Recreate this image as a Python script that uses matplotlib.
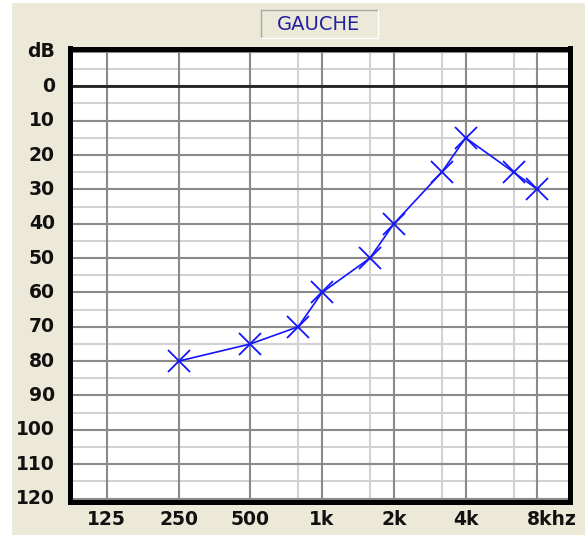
import matplotlib
matplotlib.use("Agg")
import numpy as np
import matplotlib.pyplot as plt
from matplotlib.patches import Rectangle
from matplotlib.lines import Line2D

# Audiogram data (left ear)
freqs = [250, 500, 750, 1000, 1500, 2000, 3000, 4000, 6000, 8000]
levels_db = [80, 75, 70, 60, 50, 40, 25, 15, 25, 30]

octave_freqs = [125, 250, 500, 1000, 2000, 4000, 8000]
octave_labels = ["125", "250", "500", "1k", "2k", "4k", "8khz"]
mid_freqs = [750, 1500, 3000, 6000]

db_major = list(range(-10, 130, 10))
db_minor = list(range(-5, 125, 10))
db_labels = ["dB"] + [str(v) for v in range(0, 130, 10)]

title = "GAUCHE"

# Audiometer frequency axis: one column per octave, half-octave
# frequencies sit two thirds of the way across their column.
_grid_f = np.array(sorted(octave_freqs + mid_freqs), dtype=float)
_grid_l = np.log2(_grid_f)
_grid_p = np.array([0, 1, 2, 2 + 2 / 3, 3, 3 + 2 / 3, 4, 4 + 2 / 3, 5, 5 + 2 / 3, 6])


def freq_to_pos(f):
    l = np.log2(np.maximum(np.asarray(f, dtype=float), 1e-9))
    p = np.interp(l, _grid_l, _grid_p)
    p = np.where(l < _grid_l[0], _grid_p[0] + (l - _grid_l[0]), p)
    p = np.where(l > _grid_l[-1], _grid_p[-1] + (l - _grid_l[-1]), p)
    return p


def pos_to_freq(p):
    p = np.asarray(p, dtype=float)
    l = np.interp(p, _grid_p, _grid_l)
    l = np.where(p < _grid_p[0], _grid_l[0] + (p - _grid_p[0]), l)
    l = np.where(p > _grid_p[-1], _grid_l[-1] + (p - _grid_p[-1]), l)
    return 2.0 ** l


W, H = 588, 537
fig = plt.figure(figsize=(W / 100, H / 100), dpi=100, facecolor="white")

panel_bg = "#ECE9D8"
fig.patches.append(Rectangle((12 / W, 1 - 535 / H), (585 - 12) / W, (535 - 3) / H,
                             transform=fig.transFigure, facecolor=panel_bg,
                             edgecolor="none", zorder=-5))

ax = fig.add_axes([70 / W, 1 - 502 / H, 500 / W, (502 - 48.5) / H])
ax.set_zorder(2)
ax.set_facecolor("white")
ax.set_xscale("function", functions=(freq_to_pos, pos_to_freq))
ax.set_xlim(87.7, 10950)
ax.set_ylim(121, -11)

# grid
dark = "#8a8a8a"
light = "#d2d2d2"
for f in octave_freqs:
    ax.axvline(f, color=dark, lw=1.5, zorder=1)
for f in mid_freqs:
    ax.axvline(f, color=light, lw=1.5, zorder=0.9)
for v in db_major:
    ax.axhline(v, color=dark, lw=1.5, zorder=1)
for v in db_minor:
    ax.axhline(v, color=light, lw=1.5, zorder=0.9)
ax.axhline(0, color="#202020", lw=2.0, zorder=1.1)

# thresholds
ax.plot(freqs, levels_db, color="#1414ff", lw=1.2, marker="x", markersize=16,
        markeredgewidth=1.3, zorder=3, clip_on=False)

for s in ax.spines.values():
    s.set_linewidth(3.6)
    s.set_color("black")
    s.set_zorder(5)

lab_font = dict(family="DejaVu Sans", weight="bold", size=13.5)

ax.set_yticks(db_major)
ax.set_yticklabels(db_labels, **lab_font)
ax.set_xticks(octave_freqs)
ax.set_xticklabels(octave_labels[:-1] + [""], **lab_font)
ax.minorticks_off()
ax.tick_params(axis="both", length=0, colors="#111111")
ax.tick_params(axis="y", pad=11)
ax.tick_params(axis="x", pad=6)
for t in ax.get_yticklabels():
    t.set_va("center")

ax.annotate(octave_labels[-1], xy=(octave_freqs[-1], 0), xycoords=("data", "axes fraction"),
            xytext=(-11, -8), textcoords="offset pixels", ha="left", va="top",
            color="#111111", **lab_font)

# title box
bx0, bx1, by0, by1 = 261, 378, 10, 38
fig.patches.append(Rectangle((bx0 / W, 1 - by1 / H), (bx1 - bx0) / W, (by1 - by0) / H,
                             transform=fig.transFigure, facecolor=panel_bg,
                             edgecolor="none", zorder=1))
fig.lines.append(Line2D([bx0 / W, bx0 / W, bx1 / W], [1 - by1 / H, 1 - by0 / H, 1 - by0 / H],
                        transform=fig.transFigure, color="#a8a8a0", lw=1.0))
fig.lines.append(Line2D([bx0 / W, bx1 / W, bx1 / W], [1 - by1 / H, 1 - by1 / H, 1 - by0 / H],
                        transform=fig.transFigure, color="white", lw=1.0))
fig.text(318.5 / W, 1 - 24.5 / H, title, ha="center", va="center",
         family="DejaVu Sans", size=14, color="#2020a0")

fig.savefig("out.png", dpi=100, facecolor="white")
